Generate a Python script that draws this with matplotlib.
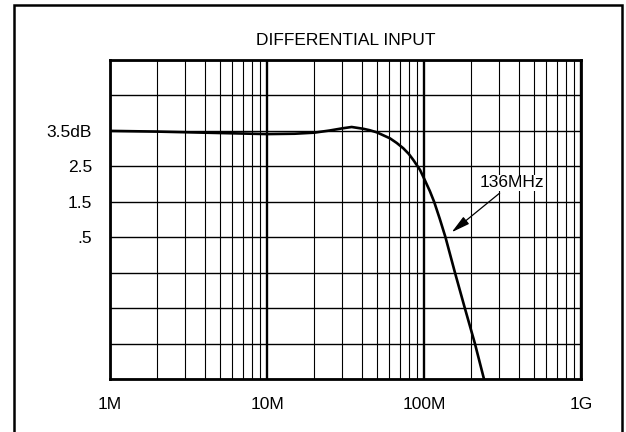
import numpy as np
import matplotlib
matplotlib.use("Agg")
import matplotlib.pyplot as plt
from matplotlib.patches import Rectangle
from matplotlib.ticker import LogLocator, NullFormatter

# gain curve (frequency in MHz, gain in dB)
freq_mhz = [1, 2, 5, 10, 15, 20, 25, 30, 34.6, 41, 45, 50, 60.7, 67, 73.8,
            80, 85.5, 94.3, 101, 109, 116, 126, 137, 157.5, 182, 211, 241]
gain_db = [3.5, 3.48, 3.44, 3.41, 3.42, 3.45, 3.51, 3.57, 3.61, 3.56, 3.52,
           3.46, 3.29, 3.16, 3.01, 2.85, 2.68, 2.40, 2.12, 1.80, 1.5, 1.02,
           0.5, -0.5, -1.5, -2.5, -3.5]

y_grid = [5.5, 4.5, 3.5, 2.5, 1.5, 0.5, -0.5, -1.5, -2.5, -3.5]
y_labels = {3.5: "3.5dB", 2.5: "2.5", 1.5: "1.5", 0.5: ".5"}
x_ticks = [1e6, 1e7, 1e8, 1e9]
x_labels = ["1M", "10M", "100M", "1G"]

title = "DIFFERENTIAL INPUT"
note = "136MHz"
note_xy = (150e6, 0.64)
note_text_xy = (364e6, 2.03)

plt.rcParams['font.family'] = ['Liberation Sans', 'DejaVu Sans']
fs = 12.5

fig = plt.figure(figsize=(6.26, 4.32), dpi=100)
ax = fig.add_axes([110 / 626, 53 / 432, 471 / 626, 319 / 432])

f = np.array(freq_mhz) * 1e6
ax.plot(f, gain_db, color='black', lw=1.9, zorder=3, solid_joinstyle='round')

ax.set_xscale('log')
ax.set_xlim(1e6, 1e9)
ax.set_ylim(-3.5, 5.5)

ax.set_xticks(x_ticks)
ax.set_xticklabels(x_labels, fontsize=fs)
ax.xaxis.set_minor_locator(LogLocator(base=10, subs=np.arange(2, 10)))
ax.xaxis.set_minor_formatter(NullFormatter())
ax.set_yticks(y_grid)
ax.set_yticklabels([y_labels.get(v, "") for v in y_grid], fontsize=fs)

ax.tick_params(which='both', length=0)
ax.tick_params(axis='x', pad=13)
ax.tick_params(axis='y', pad=13)

ax.grid(True, which='major', axis='x', color='black', lw=1.7)
ax.grid(True, which='minor', axis='x', color='black', lw=0.8)
ax.grid(True, which='major', axis='y', color='black', lw=1.0)
for s in ax.spines.values():
    s.set_linewidth(2.0)

ax.set_title(title, fontsize=fs, pad=11)

ax.annotate(note, xy=note_xy, xytext=note_text_xy, fontsize=fs,
            ha='center', va='center', zorder=5,
            bbox=dict(boxstyle='square,pad=0.05', fc='white', ec='none'),
            arrowprops=dict(arrowstyle='-|>,head_length=0.9,head_width=0.22',
                            color='black', lw=0.9, shrinkA=2, shrinkB=0))

# outer frame around the whole chart
fig.patches.append(Rectangle((14 / 626, -0.05), 608 / 626, 1.05 - 5 / 432,
                             transform=fig.transFigure, fill=False,
                             ec='black', lw=1.8))

fig.savefig('out.png', dpi=100)
